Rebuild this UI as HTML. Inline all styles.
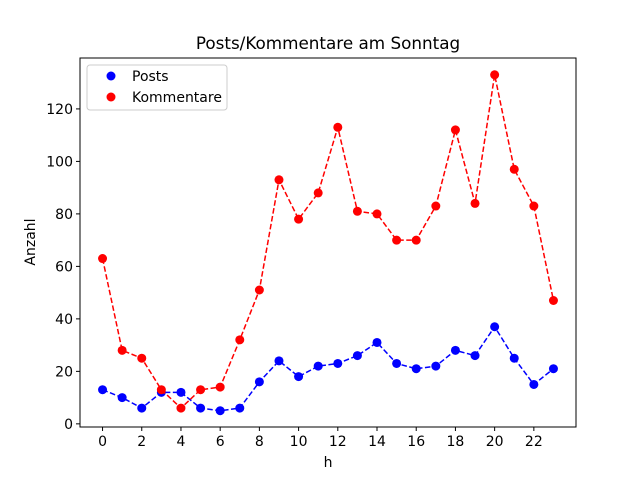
<!DOCTYPE html>
<html><head><meta charset="utf-8"><style>
body{margin:0;background:#fff;font-family:"Liberation Sans","DejaVu Sans",sans-serif}
svg text{font-family:"DejaVu Sans","Liberation Sans",sans-serif}
</style></head><body>
<svg id="chart" width="640" height="480" xmlns="http://www.w3.org/2000/svg">
<rect width="640" height="480" fill="#fff"/>
<text x="328" y="49" font-size="16.8" text-anchor="middle">Posts/Kommentare am Sonntag</text>
<g id="plot"></g>
<rect x="80" y="58" width="496" height="369" fill="none" stroke="#000" stroke-width="1"/>
<text x="328" y="467" font-size="14" text-anchor="middle">h</text>
<text x="35" y="242" font-size="14" text-anchor="middle" transform="rotate(-90 35 242)">Anzahl</text>
<g>
<rect x="87" y="65" width="140" height="45" rx="3" fill="#fff" stroke="#ccc" stroke-width="1"/>
<g><circle cx="111" cy="76" r="4.5" fill="#0000ff"/><text x="132" y="81" font-size="14">Posts</text></g>
<g><circle cx="111" cy="97" r="4.5" fill="#ff0000"/><text x="132" y="102" font-size="14">Kommentare</text></g>
</g>
</svg>
<script>
const hours=[0,1,2,3,4,5,6,7,8,9,10,11,12,13,14,15,16,17,18,19,20,21,22,23];
const posts=[13,10,6,12,12,6,5,6,16,24,18,22,23,26,31,23,21,22,28,26,37,25,15,21];
const kommentare=[63,28,25,13,6,13,14,32,51,93,78,88,113,81,80,70,70,83,112,84,133,97,83,47];
const xTicks=[0,2,4,6,8,10,12,14,16,18,20,22];
const yTicks=[0,20,40,60,80,100,120];
const X0=80,X1=576,Y0=427,Y1=58;
const xmin=-1.15,xmax=24.15,ymin=-1.2,ymax=139.4;
const sx=v=>X0+(v-xmin)/(xmax-xmin)*(X1-X0);
const sy=v=>Y0-(v-ymin)/(ymax-ymin)*(Y0-Y1);
const NS="http://www.w3.org/2000/svg";
const g=document.getElementById('plot');
function mk(t,a){const e=document.createElementNS(NS,t);for(const k in a)e.setAttribute(k,a[k]);g.appendChild(e);return e;}
xTicks.forEach(t=>{
 const l=mk('line',{x1:sx(t),x2:sx(t),y1:Y0,y2:Y0+4,stroke:'#000'});
 
 
 const tx=mk('text',{x:sx(t),y:Y0+19,'font-size':14,'text-anchor':'middle'});tx.textContent=t;
 
 
});
yTicks.forEach(t=>{
 const l=mk('line',{x1:X0-4,x2:X0,y1:sy(t),y2:sy(t),stroke:'#000'});
 
 
 const tx=mk('text',{x:X0-7,y:sy(t)+5,'font-size':14,'text-anchor':'end'});tx.textContent=t;
 
 
});
function series(vals,color,name){
 const p=mk('polyline',{points:vals.map((v,i)=>sx(hours[i])+','+sy(v)).join(' '),fill:'none',stroke:color,'stroke-width':1.5,'stroke-dasharray':'5.5,2.5'});
 
 
 vals.forEach((v,i)=>{
  const c=mk('circle',{cx:sx(hours[i]),cy:sy(v),r:4.5,fill:color});
  
  
 });
}
series(posts,'#0000ff','posts');
series(kommentare,'#ff0000','kommentare');
</script>
</body></html>
